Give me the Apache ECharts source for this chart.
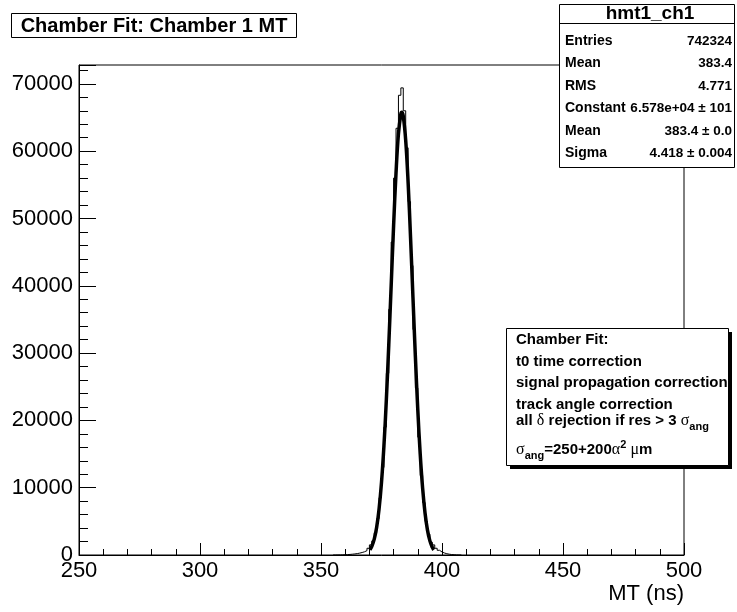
<!DOCTYPE html>
<html><head><meta charset="utf-8">
<script src="https://cdn.jsdelivr.net/npm/echarts@6/dist/echarts.min.js"></script>
<style>html,body{margin:0;padding:0;background:#fff}#c{width:737px;height:612px}</style>
</head><body><div id="c"></div>
<script>
// Histogram: left bin edges (ns) and counts per 1 ns bin
const binEdges = [355,356,357,358,359,360,361,362,363,364,365,366,367,368,369,370,371,372,373,374,375,376,377,378,379,380,381,382,383,384,385,386,387,388,389,390,391,392,393,394,395,396,397,398,399,400,401,402,403,404,405,406,407];
const binCounts = [4,8,15,25,40,60,85,120,160,210,280,370,480,650,1000,1500,2100,3300,5400,8500,13000,19000,27000,36500,46500,56000,63400,68300,69400,66000,60500,52500,43000,33500,24800,17500,11800,7800,5000,3100,1900,1500,1000,700,450,300,190,120,70,40,20,10,5];
// Gaussian fit curve sample points
const fitX = [370.2,371,372,373,374,375,376,377,378,379,380,381,382,383,383.4,384,385,386,387,388,389,390,391,392,393,394,395,396,396.6];
const fitY = [760,1280,2355,4120,6860,10790,16170,23040,31180,40060,48930,56760,62560,65510,65780,65180,61600,55320,47200,38260,29470,21560,14980,9890,6200,3700,2095,1125,760];
const xTickValues = [250,300,350,400,450,500];
const yTickValues = [0,10000,20000,30000,40000,50000,60000,70000];
const statsRows = [["Entries","742324"],["Mean","383.4"],["RMS","4.771"],["Constant","6.578e+04 \u00b1 101"],["Mean","383.4 \u00b1 0.0"],["Sigma","4.418 \u00b1 0.004"]];

const F = 'Liberation Sans, Arial, Helvetica, sans-serif';
const histData = [[binEdges[0],0]].concat(binEdges.map((e,i)=>[e,binCounts[i]]));
histData.push([binEdges[binEdges.length-1]+1,0]);
const fitData = fitX.map((x,i)=>[x,fitY[i]]);

const chart = echarts.init(document.getElementById('c'), null, {renderer:'canvas'});

function T(text, x, y, font, align, extra){
  return Object.assign({type:'text', z:101, style:{text:text, x:x, y:y, font:font, fill:'#000', textAlign:align, textVerticalAlign:'middle', align:align, verticalAlign:'middle'}}, extra||{});
}

const statsGraphics = [];
const rowY = [41,63,86,108,131,153];
statsRows.forEach((r,i)=>{
  statsGraphics.push(T(r[0], 565, rowY[i], 'bold 14px '+F, 'left'));
  statsGraphics.push(T(r[1], 732, rowY[i], 'bold 13.5px '+F, 'right'));
});

const G = '16px Liberation Serif, DejaVu Serif, serif';
const B = 'bold 15px '+F;
const paveLines = [
  {y:340, text:'Chamber Fit:'},
  {y:362, text:'t0 time correction'},
  {y:383, text:'signal propagation correction'},
  {y:405, text:'track angle correction'},
];
const paveGraphics = paveLines.map(l=>T(l.text, 516, l.y, B, 'left'));
const richStyles = {
  b:{font:B, fill:'#000', verticalAlign:'middle'},
  g:{font:G, fill:'#000', verticalAlign:'middle'},
  sub:{font:'bold 11px '+F, fill:'#000', verticalAlign:'bottom'},
  sup:{font:'bold 11px '+F, fill:'#000', verticalAlign:'top'}
};
function R(text, x, y, align){
  return {type:'text', z:101, style:{text:text, x:x, y:y, textAlign:align, textVerticalAlign:'middle', align:align, verticalAlign:'middle', lineHeight:22, rich:richStyles}};
}
paveGraphics.push(R('{b|all }{g|\u03b4}{b| rejection if res > 3 }{g|\u03c3}{sub|ang}', 516, 421, 'left'));
paveGraphics.push(R('{g|\u03c3}{sub|ang}{b|=250+200}{g|\u03b1}{sup|2}{b| }{g|\u03bc}{b|m}', 516, 450, 'left'));

const option = {
  animation:false,
  backgroundColor:'#fff',
  grid:{left:79, right:53, top:65, bottom:57, show:true, borderColor:'#000', borderWidth:1, backgroundColor:'transparent'},
  xAxis:{type:'value', min:250, max:500, interval:50,
    axisLine:{show:true, onZero:false, lineStyle:{color:'#000', width:1}},
    axisTick:{show:true, inside:true, length:12, lineStyle:{color:'#000'}},
    minorTick:{show:true, splitNumber:5, length:6, lineStyle:{color:'#000'}},
    axisLabel:{color:'#000', fontFamily:F, fontSize:22, margin:5, formatter:v=>xTickValues.includes(v)?String(v):''},
    splitLine:{show:false}, minorSplitLine:{show:false}},
  yAxis:{type:'value', min:0, max:72800, interval:10000,
    axisLine:{show:true, lineStyle:{color:'#000', width:1}},
    axisTick:{show:true, inside:true, length:17, lineStyle:{color:'#000'}},
    minorTick:{show:true, splitNumber:5, length:9, lineStyle:{color:'#000'}},
    axisLabel:{color:'#000', fontFamily:F, fontSize:22, margin:6, padding:[4,0,0,0], showMaxLabel:false, formatter:v=>yTickValues.includes(v)?String(v):''},
    splitLine:{show:false}, minorSplitLine:{show:false}},
  series:[
    {type:'line', data:histData, step:'end', showSymbol:false, lineStyle:{color:'#000', width:1}, z:2, silent:true},
    {type:'line', data:fitData, smooth:0.4, showSymbol:false, lineStyle:{color:'#000', width:3.5}, z:3, silent:true}
  ],
  graphic:[
    {type:'rect', z:100, shape:{x:11.5, y:13.5, width:285, height:24}, style:{fill:'#fff', stroke:'#000', lineWidth:1}},
    T('Chamber Fit: Chamber 1 MT', 154, 26, 'bold 20px '+F, 'center'),
    {type:'rect', z:100, shape:{x:559.5, y:4.5, width:175, height:163}, style:{fill:'#fff', stroke:'#000', lineWidth:1}},
    {type:'line', z:101, shape:{x1:559.5, y1:23.5, x2:734.5, y2:23.5}, style:{stroke:'#000', lineWidth:1}},
    T('hmt1_ch1', 650, 14, 'bold 19px '+F, 'center'),
    ...statsGraphics,
    {type:'rect', z:99, shape:{x:510, y:332, width:222, height:137}, style:{fill:'#000'}},
    {type:'rect', z:100, shape:{x:506.5, y:328.5, width:222, height:137}, style:{fill:'#fff', stroke:'#000', lineWidth:1}},
    ...paveGraphics,
    T('MT (ns)', 684, 594, '22px '+F, 'right')
  ]
};
chart.setOption(option);
</script></body></html>
